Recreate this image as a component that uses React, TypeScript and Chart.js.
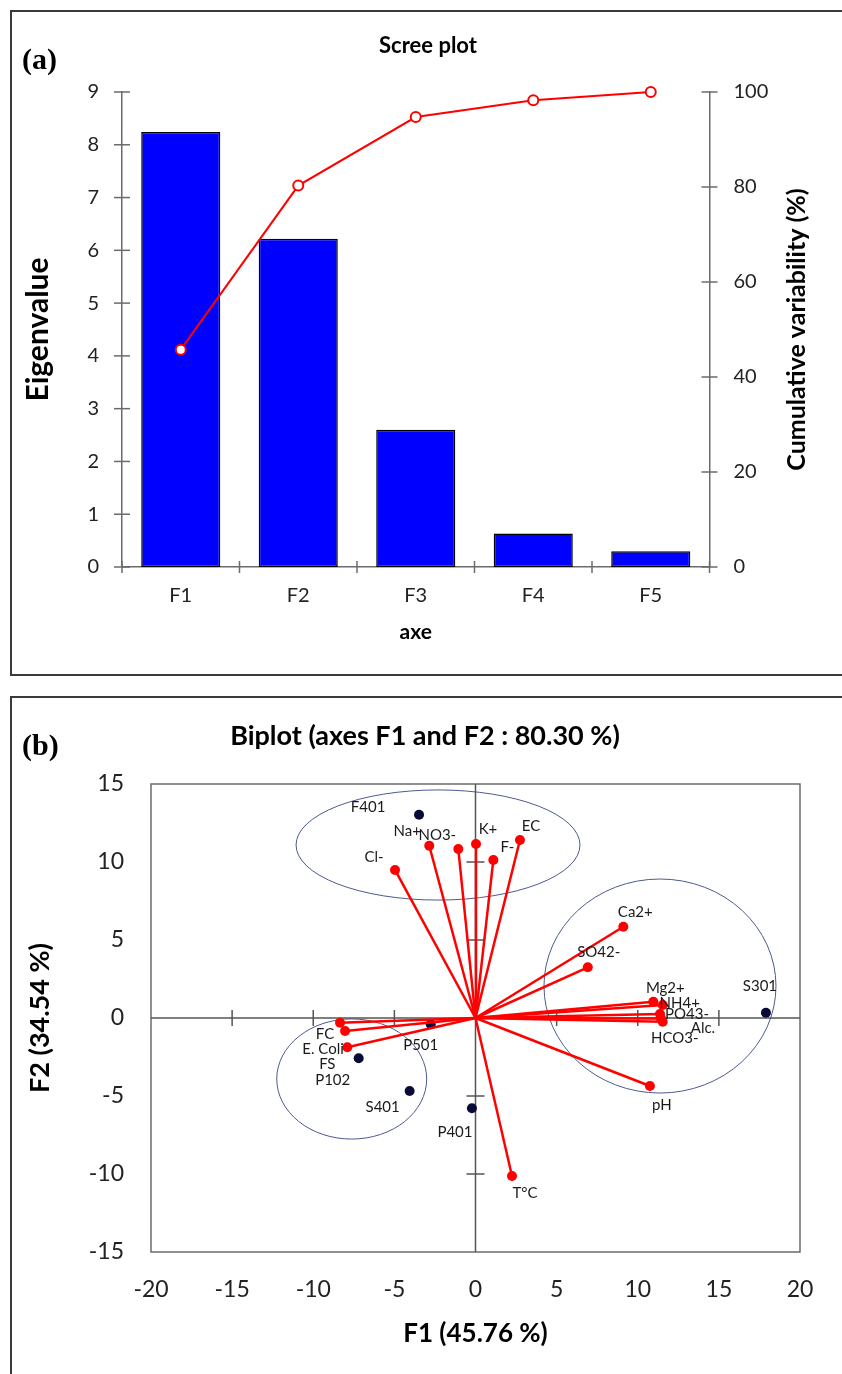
import React, { useEffect, useRef } from "react";
import { Chart, registerables } from "chart.js";

Chart.register(...registerables);

// ---------- Scree plot data ----------
const FACTORS = ["F1", "F2", "F3", "F4", "F5"];
const EIGENVALUES = [8.24, 6.22, 2.6, 0.635, 0.3];
const CUMULATIVE = [45.76, 80.3, 94.72, 98.25, 100];
const EIGEN_TICKS = [0, 1, 2, 3, 4, 5, 6, 7, 8, 9];
const CUM_TICKS = [0, 20, 40, 60, 80, 100];

// ---------- Biplot data ----------
const VAR_NAMES = ["Cl-", "Na+", "NO3-", "K+", "F-", "EC", "Ca2+", "SO42-", "Mg2+", "NH4+", "PO43-", "Alc.", "HCO3-", "pH", "T°C", "FC", "E. Coli", "FS"];
const VAR_F1 = [-4.96, -2.85, -1.06, 0.03, 1.1, 2.74, 9.11, 6.92, 10.96, 11.54, 11.37, 11.43, 11.54, 10.75, 2.25, -8.35, -8.04, -7.9];
const VAR_F2 = [9.49, 11.04, 10.83, 11.15, 10.13, 11.41, 5.85, 3.25, 1.04, 0.83, 0.26, -0.03, -0.24, -4.36, -10.13, -0.3, -0.83, -1.88];

const OBS_NAMES = ["F401", "S301", "P501", "P102", "S401", "P401"];
const OBS_F1 = [-3.48, 17.9, -2.76, -7.2, -4.06, -0.22];
const OBS_F2 = [13.03, 0.34, -0.4, -2.58, -4.68, -5.79];

const ELLIPSE_CX = [-2.31, 11.37, -7.63];
const ELLIPSE_CY = [11.09, 2.05, -3.91];
const ELLIPSE_RX = [8.75, 7.15, 4.62];
const ELLIPSE_RY = [3.53, 6.86, 3.85];

const X_TICKS = [-20, -15, -10, -5, 0, 5, 10, 15, 20];
const Y_TICKS = [-15, -10, -5, 0, 5, 10, 15];

// label placement (pixel offsets from the point)
const LABEL_OFFSET: Record<string, [number, number]> = {
  "Cl-": [-21, -13], "Na+": [-22, -15], "NO3-": [-21, -14], "K+": [12, -15], "F-": [14, -13],
  "EC": [11, -14], "Ca2+": [12, -15], "SO42-": [11, -15], "Mg2+": [12, -14], "NH4+": [17, -2],
  "PO43-": [27, 0], "Alc.": [42, 10], "HCO3-": [12, 16], "pH": [12, 19], "T°C": [13, 17],
  "FC": [-15, 11], "E. Coli": [-22, 18], "FS": [-20, 17],
  "F401": [-51, -8], "S301": [-6, -27], "P501": [-10, 21], "P102": [-26, 22], "S401": [-27, 16], "P401": [-17, 24],
};

const FONT = "Lato, 'Open Sans', sans-serif";
const AXIS = "#6b6b6b";

function line(ctx: CanvasRenderingContext2D, x1: number, y1: number, x2: number, y2: number) {
  ctx.beginPath();
  ctx.moveTo(x1, y1);
  ctx.lineTo(x2, y2);
  ctx.stroke();
}

const screeDecor = {
  id: "screeDecor",
  afterDraw(chart: any) {
    const { ctx, chartArea, scales } = chart;
    const { left, right, top, bottom } = chartArea;
    ctx.save();
    ctx.strokeStyle = AXIS;
    ctx.lineWidth = 1.5;
    EIGEN_TICKS.forEach((v) => {
      const py = scales.y.getPixelForValue(v);
      line(ctx, left - 8, py, left + 8, py);
    });
    CUM_TICKS.forEach((v) => {
      const py = scales.y1.getPixelForValue(v);
      line(ctx, right - 8, py, right + 8, py);
    });
    for (let i = 0; i <= FACTORS.length; i++) {
      const px = scales.x.getPixelForValue(i - 0.5);
      line(ctx, px, bottom - 6, px, bottom + 6);
    }
    ctx.translate(797, (top + bottom) / 2);
    ctx.rotate(-Math.PI / 2);
    ctx.font = `bold 25px ${FONT}`;
    ctx.fillStyle = "#000";
    ctx.textAlign = "center";
    ctx.textBaseline = "middle";
    ctx.fillText("Cumulative variability (%)", 0, 0);
    ctx.restore();
  },
};

const biplotDecor = {
  id: "biplotDecor",
  beforeDatasetsDraw(chart: any) {
    const { ctx, chartArea, scales } = chart;
    const { left, right, top, bottom } = chartArea;
    const x = scales.x, y = scales.y;
    ctx.save();
    ctx.strokeStyle = AXIS;
    ctx.lineWidth = 1.5;
    ctx.strokeRect(left, top, right - left, bottom - top);
    ctx.strokeStyle = "#4c5a8e";
    ctx.lineWidth = 1;
    for (let i = 0; i < ELLIPSE_CX.length; i++) {
      const cx = x.getPixelForValue(ELLIPSE_CX[i]);
      const cy = y.getPixelForValue(ELLIPSE_CY[i]);
      const rx = Math.abs(x.getPixelForValue(ELLIPSE_CX[i] + ELLIPSE_RX[i]) - cx);
      const ry = Math.abs(y.getPixelForValue(ELLIPSE_CY[i] + ELLIPSE_RY[i]) - cy);
      ctx.beginPath();
      ctx.ellipse(cx, cy, rx, ry, 0, 0, Math.PI * 2);
      ctx.stroke();
    }
    ctx.strokeStyle = "#555";
    ctx.lineWidth = 1.5;
    const x0 = x.getPixelForValue(0);
    const y0 = y.getPixelForValue(0);
    line(ctx, left, y0, right, y0);
    line(ctx, x0, top, x0, bottom);
    X_TICKS.forEach((v) => {
      if (v === 0 || v === X_TICKS[0] || v === X_TICKS[X_TICKS.length - 1]) return;
      const px = x.getPixelForValue(v);
      line(ctx, px, y0 - 8, px, y0 + 8);
    });
    Y_TICKS.forEach((v) => {
      if (v === 0 || v === Y_TICKS[0] || v === Y_TICKS[Y_TICKS.length - 1]) return;
      const py = y.getPixelForValue(v);
      line(ctx, x0 - 9, py, x0 + 9, py);
    });
    ctx.restore();
  },
  afterDatasetsDraw(chart: any) {
    const { ctx, scales } = chart;
    const x = scales.x, y = scales.y;
    ctx.save();
    ctx.font = `15px ${FONT}`;
    ctx.fillStyle = "#1a1a1a";
    ctx.textAlign = "center";
    ctx.textBaseline = "middle";
    const draw = (name: string, vx: number, vy: number) => {
      const off = LABEL_OFFSET[name] || [0, -14];
      ctx.fillText(name, x.getPixelForValue(vx) + off[0], y.getPixelForValue(vy) + off[1]);
    };
    VAR_NAMES.forEach((n, i) => draw(n, VAR_F1[i], VAR_F2[i]));
    OBS_NAMES.forEach((n, i) => draw(n, OBS_F1[i], OBS_F2[i]));
    ctx.restore();
  },
};

function ScreeChart() {
  const ref = useRef<HTMLCanvasElement>(null);
  useEffect(() => {
    const chart = new Chart(ref.current!, {
      type: "bar",
      data: {
        labels: FACTORS,
        datasets: [
          {
            type: "line",
            data: CUMULATIVE,
            yAxisID: "y1",
            borderColor: "#ff0000",
            borderWidth: 2,
            pointRadius: 5,
            pointBackgroundColor: "#ffffff",
            pointBorderColor: "#ff0000",
            pointBorderWidth: 2,
            clip: false,
            order: 1,
          } as any,
          {
            type: "bar",
            data: EIGENVALUES,
            yAxisID: "y",
            backgroundColor: "#0000ff",
            borderColor: "#000000",
            borderWidth: 1.5,
            borderSkipped: false,
            categoryPercentage: 1,
            barPercentage: 0.673,
            order: 2,
          } as any,
        ],
      },
      options: {
        responsive: false,
        animation: false,
        devicePixelRatio: 1,
        events: [],
        layout: { padding: { left: 0, right: 0, top: 92, bottom: 0 } },
        plugins: { legend: { display: false }, tooltip: { enabled: false }, title: { display: false } },
        scales: {
          x: {
            type: "category",
            offset: true,
            grid: { display: false, drawTicks: false },
            border: { display: true, color: AXIS, width: 1.5 },
            ticks: { color: "#222", font: { family: FONT, size: 20 }, padding: 17 },
            title: { display: true, text: "axe", color: "#000", font: { family: FONT, size: 21, weight: "bold" }, padding: { top: 0, bottom: 35 } },
            afterFit: (s: any) => { s.height = 113; },
          },
          y: {
            position: "left",
            min: 0,
            max: 9,
            ticks: { stepSize: 1, color: "#222", font: { family: FONT, size: 20 }, padding: 23 },
            grid: { display: false, drawTicks: false },
            border: { display: true, color: AXIS, width: 1.5 },
            title: { display: true, text: "Eigenvalue", color: "#000", font: { family: FONT, size: 30, weight: "bold" }, padding: { top: 20, bottom: 0 } },
            afterFit: (s: any) => { s.width = 122; },
          },
          y1: {
            position: "right",
            min: 0,
            max: 100,
            ticks: { stepSize: 20, color: "#222", font: { family: FONT, size: 20 }, padding: 24 },
            grid: { display: false, drawTicks: false },
            border: { display: true, color: AXIS, width: 1.5 },
            afterFit: (s: any) => { s.width = 132.5; },
          },
        },
      } as any,
      plugins: [screeDecor],
    });
    return () => chart.destroy();
  }, []);
  return <canvas ref={ref} width={842} height={680} style={{ position: "absolute", left: 0, top: 0, width: 842, height: 680 }} />;
}

function BiplotChart() {
  const ref = useRef<HTMLCanvasElement>(null);
  useEffect(() => {
    const varSets = VAR_NAMES.map((n, i) => ({
      label: n,
      data: [{ x: 0, y: 0 }, { x: VAR_F1[i], y: VAR_F2[i] }],
      showLine: true,
      borderColor: "#ff0000",
      borderWidth: 2.5,
      pointRadius: [0, 5],
      pointBackgroundColor: "#ff0000",
      pointBorderWidth: 0,
    }));
    const obsSet = {
      label: "Observations",
      data: OBS_F1.map((v, i) => ({ x: v, y: OBS_F2[i] })),
      showLine: false,
      pointRadius: 5,
      pointBackgroundColor: "#0a0a36",
      pointBorderWidth: 0,
    };
    const chart = new Chart(ref.current!, {
      type: "scatter",
      data: { datasets: [...varSets, obsSet] as any },
      options: {
        responsive: false,
        animation: false,
        devicePixelRatio: 1,
        events: [],
        layout: { padding: { left: 0, right: 42, top: 104, bottom: 0 } },
        plugins: { legend: { display: false }, tooltip: { enabled: false }, title: { display: false } },
        scales: {
          x: {
            type: "linear",
            min: -20,
            max: 20,
            ticks: { stepSize: 5, color: "#222", font: { family: FONT, size: 23 }, padding: 24 },
            grid: { display: false, drawTicks: false },
            border: { display: false },
            title: { display: true, text: "F1 (45.76 %)", color: "#000", font: { family: FONT, size: 26, weight: "bold" }, padding: { top: 0, bottom: 25 } },
            afterFit: (s: any) => { s.height = 122; },
          },
          y: {
            type: "linear",
            min: -15,
            max: 15,
            ticks: { stepSize: 5, color: "#222", font: { family: FONT, size: 23 }, padding: 27 },
            grid: { display: false, drawTicks: false },
            border: { display: false },
            title: { display: true, text: "F2 (34.54 %)", color: "#000", font: { family: FONT, size: 27, weight: "bold" }, padding: { top: 24, bottom: 0 } },
            afterFit: (s: any) => { s.width = 151; },
          },
        },
      } as any,
      plugins: [biplotDecor],
    });
    return () => chart.destroy();
  }, []);
  return <canvas ref={ref} width={842} height={694} style={{ position: "absolute", left: 0, top: 680, width: 842, height: 694 }} />;
}

export default function App() {
  const panelBorder = "2px solid #3a3a3a";
  const letter: React.CSSProperties = {
    position: "absolute",
    fontFamily: "'Liberation Serif', 'Times New Roman', serif",
    fontWeight: "bold",
    fontSize: 30,
    lineHeight: "34px",
    color: "#000",
  };
  const title: React.CSSProperties = {
    position: "absolute",
    fontFamily: FONT,
    fontWeight: "bold",
    color: "#000",
    textAlign: "center",
    whiteSpace: "nowrap",
  };
  return (
    <div style={{ position: "absolute", left: 0, top: 0, width: 842, height: 1374, overflow: "hidden", background: "#fff" }}>
      <div style={{ position: "absolute", left: 10, top: 10, width: 900, height: 662, border: panelBorder }} />
      <div style={{ position: "absolute", left: 10, top: 696, width: 900, height: 800, border: panelBorder }} />
      <ScreeChart />
      <BiplotChart />
      <div style={{ ...letter, left: 22, top: 42 }}>(a)</div>
      <div style={{ ...title, left: 328, width: 200, top: 31, fontSize: 22, lineHeight: "28px" }}>Scree plot</div>
      <div style={{ ...letter, left: 22, top: 728 }}>(b)</div>
      <div style={{ ...title, left: 175, width: 500, top: 719, fontSize: 27, lineHeight: "32px" }}>Biplot (axes F1 and F2 : 80.30 %)</div>
    </div>
  );
}
